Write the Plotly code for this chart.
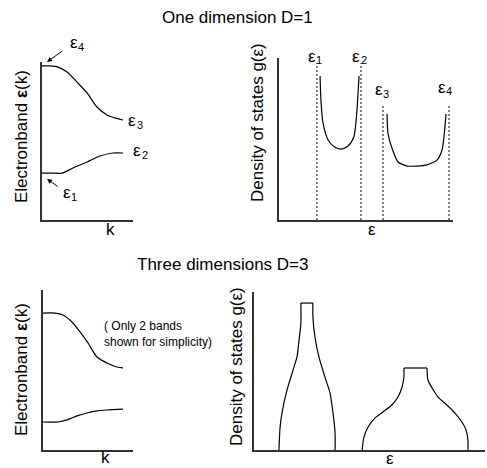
import plotly.graph_objects as go

W, H = 487, 468

# ---------------- data (schematic values in panel units 0..10) ----------------
# Top-left: 1D band structure
band1_k = [0, 0.9, 2.2, 3.4, 4.95, 6.37, 7.8, 8.9]
band1_e = [2.97, 2.97, 2.97, 3.29, 3.67, 4.05, 4.24, 4.24]
band2_k = [0, 0.88, 1.76, 2.75, 3.85, 4.95, 6.04, 7.14, 8.02, 8.9]
band2_e = [9.75, 9.75, 9.68, 9.37, 8.73, 8.04, 7.15, 6.65, 6.46, 6.33]

# Top-right: 1D density of states
dos1_e = [2.36, 2.41, 2.53, 2.82, 3.2, 3.55, 3.95, 4.3, 4.45, 4.6]
dos1_g = [8.89, 7.41, 5.99, 4.94, 4.5, 4.38, 4.55, 5.12, 6.36, 8.89]
dos2_e = [6.21, 6.26, 6.49, 6.84, 7.36, 7.93, 8.51, 9.08, 9.37, 9.48, 9.6]
dos2_g = [6.54, 5.37, 4.44, 3.58, 3.33, 3.33, 3.4, 3.7, 4.32, 5.12, 6.54]
edge_e = [2.18, 4.71, 5.98, 9.77]
edge_top = [9.69, 9.69, 7.16, 7.16]
edge_index = ["1", "2", "3", "4"]

# Bottom-left: 3D band structure
b3_up_k = [0, 1.33, 2.22, 3.22, 4.11, 5.0, 6.0, 7.11, 8.22, 8.89]
b3_up_e = [8.56, 8.56, 8.44, 8.0, 7.38, 6.69, 5.81, 5.44, 5.19, 5.13]
b3_lo_k = [0, 1.67, 2.67, 3.78, 4.89, 6.0, 7.11, 8.89]
b3_lo_e = [1.75, 1.75, 1.88, 2.13, 2.31, 2.44, 2.5, 2.56]

# Bottom-right: 3D density of states (left flank, flat top, right flank)
p1_left_e = [1.08, 1.13, 1.21, 1.43, 1.69, 1.86, 1.95, 2.03, 2.03]
p1_left_g = [0, 1.46, 2.34, 3.8, 5.06, 5.89, 6.96, 8.04, 9.3]
p1_top_e = [2.03, 2.55]
p1_top_g = [9.3, 9.3]
p1_right_e = [2.55, 2.55, 2.64, 2.81, 3.07, 3.29, 3.42, 3.51, 3.51]
p1_right_g = [9.3, 8.42, 7.15, 5.89, 4.62, 3.61, 2.34, 1.08, 0]
p2_left_e = [4.68, 4.76, 4.94, 5.24, 5.58, 5.97, 6.23, 6.41, 6.49, 6.49]
p2_left_g = [0, 0.82, 1.46, 2.03, 2.41, 2.85, 3.35, 3.99, 4.62, 5.19]
p2_top_e = [6.49, 7.49]
p2_top_g = [5.19, 5.19]
p2_right_e = [7.49, 7.53, 7.71, 7.97, 8.35, 8.7, 9.0, 9.18, 9.26, 9.26]
p2_right_g = [5.19, 4.43, 3.92, 3.35, 2.85, 2.34, 1.77, 1.27, 0.63, 0]

# ---------------- layout helpers ----------------
FONT = "Liberation Sans, Arial, sans-serif"


def fx(px):
    return px / W


def fy(py):
    return 1 - py / H


fig = go.Figure()


def curve(x, y, xa, ya, smooth=0.8):
    fig.add_trace(go.Scatter(x=x, y=y, mode="lines", xaxis=xa, yaxis=ya,
                             line=dict(color="black", width=1.2, shape="spline", smoothing=smooth),
                             hoverinfo="skip", showlegend=False))


def straight(x, y, xa, ya):
    fig.add_trace(go.Scatter(x=x, y=y, mode="lines", xaxis=xa, yaxis=ya,
                             line=dict(color="black", width=1.2),
                             hoverinfo="skip", showlegend=False))


# top-left
curve(band1_k, band1_e, "x", "y")
curve(band2_k, band2_e, "x", "y")
# top-right
curve(dos1_e, dos1_g, "x2", "y2", 0.7)
curve(dos2_e, dos2_g, "x2", "y2", 0.6)
for e, t in zip(edge_e, edge_top):
    fig.add_trace(go.Scatter(x=[e, e], y=[0, t], mode="lines", xaxis="x2", yaxis="y2",
                             line=dict(color="black", width=1, dash="2px,2px"),
                             hoverinfo="skip", showlegend=False))
# bottom-left
curve(b3_up_k, b3_up_e, "x3", "y3")
curve(b3_lo_k, b3_lo_e, "x3", "y3")
# bottom-right
curve(p1_left_e, p1_left_g, "x4", "y4", 0.7)
straight(p1_top_e, p1_top_g, "x4", "y4")
curve(p1_right_e, p1_right_g, "x4", "y4", 0.7)
curve(p2_left_e, p2_left_g, "x4", "y4", 0.7)
straight(p2_top_e, p2_top_g, "x4", "y4")
curve(p2_right_e, p2_right_g, "x4", "y4", 0.7)

axcommon = dict(showgrid=False, zeroline=False, showticklabels=False, ticks="",
                showline=True, linecolor="#333", linewidth=1.5, range=[0, 10], fixedrange=True)

panels = {
    "": ((42, 133), (220, 62)),
    "2": ((279, 453), (220, 58)),
    "3": ((43, 133), (450, 290)),
    "4": ((254, 485), (450, 292)),
}
layout_axes = {}
for s, ((x0, x1), (yb, yt)) in panels.items():
    layout_axes["xaxis" + s] = dict(axcommon, domain=[fx(x0), fx(x1)], anchor="y" + s)
    layout_axes["yaxis" + s] = dict(axcommon, domain=[fy(yb), fy(yt)], anchor="x" + s)

annotations = []


def text(px, py, s, size=17, angle=0, xanchor="center", align="center"):
    annotations.append(dict(x=fx(px), y=fy(py), xref="paper", yref="paper", text=s,
                            showarrow=False, textangle=angle, xanchor=xanchor, yanchor="middle",
                            align=align, font=dict(family=FONT, size=size, color="black")))


def eps_label(px, py, idx, arrow_to=None, startoff=0):
    # "ε" with a subscript index drawn as a second, smaller text
    a = dict(x=fx(px), y=fy(py), xref="paper", yref="paper", text="ε",
             xanchor="center", yanchor="middle",
             showarrow=False, font=dict(family=FONT, size=17, color="black"))
    if arrow_to is not None:
        hx, hy = arrow_to
        a.update(x=fx(hx), y=fy(hy), ax=px - hx, ay=py - hy, showarrow=True,
                 xanchor="auto", yanchor="auto",
                 arrowhead=2, arrowsize=1, arrowwidth=1, arrowcolor="black",
                 standoff=0, startstandoff=startoff)
    annotations.append(a)
    annotations.append(dict(x=fx(px + 7.5), y=fy(py + 4.5), xref="paper", yref="paper",
                            text=idx, showarrow=False, xanchor="center", yanchor="middle",
                            font=dict(family=FONT, size=11, color="black")))


# titles
text(237.5, 18, "One dimension D=1")
text(223, 264, "Three dimensions D=3")

# top-left labels
text(21, 137, "Electronband <b>ε</b>(k)", angle=-90)
text(110, 229, "k")
eps_label(73.5, 43, "4", arrow_to=(47, 62), startoff=7)
eps_label(66.5, 192.5, "1", arrow_to=(47, 179), startoff=4)
eps_label(137, 151, "2")
eps_label(132, 121, "3")

# top-right labels
text(258, 123, "Density of states g(ε)", angle=-90)
text(372, 229, "ε")
for px_, py_, idx in zip([311.5, 356, 378.5, 441.5], [56, 56, 90, 87], edge_index):
    eps_label(px_, py_, idx)

# bottom-left labels
text(21, 370, "Electronband <b>ε</b>(k)", angle=-90)
text(105, 457, "k")
text(102, 334, "( Only 2 bands<br>shown for simplicity)", size=12, xanchor="left", align="left")

# bottom-right labels
text(236, 367, "Density of states g(ε)", angle=-90)
text(390, 458, "ε")

fig.update_layout(width=W, height=H, autosize=False,
                  margin=dict(l=0, r=0, t=0, b=0),
                  paper_bgcolor="white", plot_bgcolor="white",
                  font=dict(family=FONT, color="black"),
                  annotations=annotations, showlegend=False, **layout_axes)

fig.write_html("out.html", config={"displayModeBar": False},
               post_script="document.body.style.margin='0';document.body.style.overflow='hidden';")
